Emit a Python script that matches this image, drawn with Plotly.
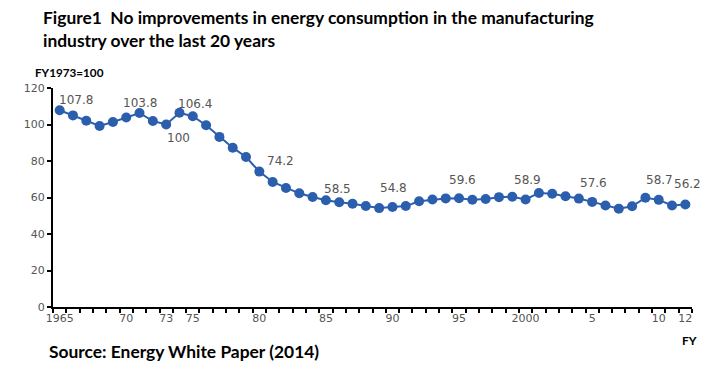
import plotly.graph_objects as go

years = list(range(1965, 2013))
values = [107.8, 105.0, 102.1, 99.2, 101.4, 103.8, 106.3, 101.9, 100, 106.4,
          104.5, 99.6, 93.2, 87.3, 82.2, 74.2, 68.5, 65.2, 62.3, 60.3,
          58.5, 57.4, 56.6, 55.3, 54.2, 54.8, 55.3, 57.9, 58.9, 59.5,
          59.6, 58.8, 59.2, 60.2, 60.4, 58.9, 62.5, 62.1, 60.7, 59.4,
          57.6, 55.6, 53.9, 55.2, 59.9, 58.7, 55.6, 56.2]

label_years = [1965, 1970, 1973, 1974, 1980, 1985, 1990, 1995, 2000, 2005, 2010, 2012]
label_shift = [(16, 10), (14, 15), (12, -13), (16, 9), (21, 11), (12, 11),
               (1, 19), (3, 18), (2, 20), (1, 19), (1, 20), (2, 20)]

tick_vals = [1965, 1970, 1973, 1975, 1980, 1985, 1990, 1995, 2000, 2005, 2010, 2012]
tick_text = ["1965", "70", "73", "75", "80", "85", "90", "95", "2000", "5", "10", "12"]

y_ticks = [0, 20, 40, 60, 80, 100, 120]

blue = "#2b5fae"

fig = go.Figure()
fig.add_trace(go.Scatter(
    x=years, y=values, mode="lines+markers",
    line=dict(color=blue, width=2),
    marker=dict(color=blue, size=10),
    hoverinfo="skip", showlegend=False,
))

annotations = []
vmap = dict(zip(years, values))
for yr, (dx, dy) in zip(label_years, label_shift):
    annotations.append(dict(
        x=yr, y=vmap[yr], xref="x", yref="y", text=f"{vmap[yr]:g}",
        showarrow=False, xanchor="center", yanchor="middle",
        xshift=dx, yshift=dy,
        font=dict(family="DejaVu Sans", size=12, color="#555555"),
    ))

W, H = 639.0, 219.0
L, B = 53.3, 306.7


def px(xp):
    return (xp - L) / W


def py(yp):
    return (B - yp) / H


annotations.append(dict(
    x=px(41), y=py(5), xref="paper", yref="paper", xanchor="left", yanchor="top",
    align="left", showarrow=False,
    text="<b>Figure1  No improvements in energy consumption in the manufacturing<br>industry over the last 20 years</b>",
    font=dict(family="Lato", size=17.4, color="#000000"),
))
annotations.append(dict(
    x=px(33), y=py(72), xref="paper", yref="paper", xanchor="left", yanchor="middle",
    showarrow=False, text="<b>FY1973=100</b>",
    font=dict(family="Lato", size=11.7, color="#000000"),
))
annotations.append(dict(
    x=px(47), y=py(351), xref="paper", yref="paper", xanchor="left", yanchor="middle",
    showarrow=False, text="<b>Source: Energy White Paper (2014)</b>",
    font=dict(family="Lato", size=17.4, color="#000000"),
))
annotations.append(dict(
    x=px(690), y=py(340), xref="paper", yref="paper", xanchor="center", yanchor="middle",
    showarrow=False, text="<b>FY</b>",
    font=dict(family="Lato", size=12, color="#000000"),
))

fig.update_layout(
    width=722, height=373,
    margin=dict(l=53, r=30, t=88, b=66, pad=0),
    paper_bgcolor="white", plot_bgcolor="white",
    annotations=annotations,
    xaxis=dict(
        range=[1964.5, 2012.5], tickvals=tick_vals, ticktext=tick_text,
        ticks="", showgrid=False, zeroline=False,
        showline=True, linecolor="#000000", linewidth=2,
        tickfont=dict(family="DejaVu Sans", size=11, color="#555555"),
        minor=dict(ticks="outside", tick0=1964.5, dtick=1, ticklen=4,
                   tickcolor="#000000", tickwidth=1.5, showgrid=False),
        fixedrange=True,
    ),
    yaxis=dict(
        range=[0, 120], tickvals=y_ticks, ticks="outside", ticklen=4,
        tickcolor="#000000", tickwidth=1.5, showgrid=False, zeroline=False,
        showline=True, linecolor="#000000", linewidth=2,
        tickfont=dict(family="DejaVu Sans", size=11, color="#555555"),
        fixedrange=True,
    ),
)

fig.write_html("out.html", config={"displayModeBar": False},
               post_script="document.body.style.margin='0px';")
